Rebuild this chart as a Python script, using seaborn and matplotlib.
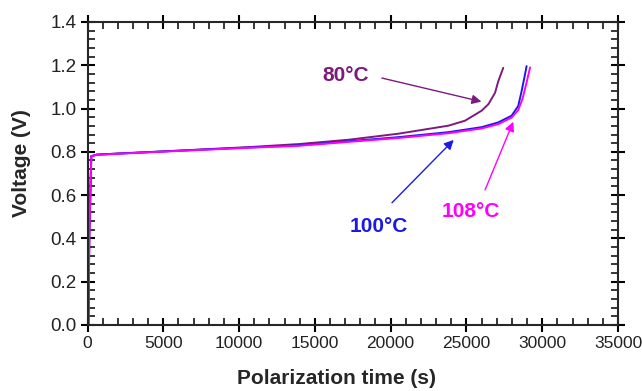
import numpy as np
import pandas as pd
import matplotlib
matplotlib.use("Agg")
import matplotlib.pyplot as plt
import seaborn as sns
from matplotlib.ticker import MultipleLocator, FormatStrFormatter

# ---- data ----
t80 = [60, 120, 250, 600, 2000, 5000, 7500, 10660, 13950, 17240, 20530, 23820, 24910, 26000, 26450, 26890, 27100, 27430]
v80 = [0.0, 0.42, 0.78, 0.787, 0.792, 0.802, 0.811, 0.822, 0.836, 0.856, 0.884, 0.921, 0.944, 0.99, 1.02, 1.073, 1.126, 1.188]

t100 = [60, 120, 250, 600, 2000, 5000, 7500, 10660, 13950, 17240, 20530, 23820, 26000, 27100, 27980, 28420, 28640, 28860, 28970]
v100 = [0.0, 0.42, 0.78, 0.787, 0.792, 0.802, 0.810, 0.820, 0.830, 0.849, 0.868, 0.891, 0.914, 0.936, 0.967, 1.012, 1.08, 1.156, 1.196]

t108 = [60, 120, 250, 600, 2000, 5000, 7500, 10660, 13950, 17240, 20530, 23820, 26000, 27100, 27980, 28420, 28700, 28950, 29200]
v108 = [0.0, 0.42, 0.78, 0.786, 0.791, 0.801, 0.809, 0.819, 0.828, 0.846, 0.864, 0.886, 0.908, 0.928, 0.958, 0.993, 1.045, 1.115, 1.19]

labels = ["80°C", "100°C", "108°C"]
colors = ["#7d1a7d", "#1a1ae6", "#ff00ff"]

df = pd.concat([
    pd.DataFrame({"t": t80, "v": v80, "temp": labels[0]}),
    pd.DataFrame({"t": t100, "v": v100, "temp": labels[1]}),
    pd.DataFrame({"t": t108, "v": v108, "temp": labels[2]}),
], ignore_index=True)

sns.set_style("ticks")
plt.rcParams['font.family'] = ['Liberation Sans', 'DejaVu Sans']

fig = plt.figure(figsize=(6.42, 3.91), dpi=100)
ax = fig.add_axes([0.1363, 0.1688, 0.8263, 0.775])

sns.lineplot(data=df, x="t", y="v", hue="temp", palette=dict(zip(labels, colors)),
             estimator=None, sort=False, linewidth=1.4, legend=False, ax=ax)

ax.set_xlim(0, 35000)
ax.set_ylim(0, 1.4)
ax.xaxis.set_major_locator(MultipleLocator(5000))
ax.xaxis.set_minor_locator(MultipleLocator(1000))
ax.yaxis.set_major_locator(MultipleLocator(0.2))
ax.yaxis.set_minor_locator(MultipleLocator(0.04))
ax.yaxis.set_major_formatter(FormatStrFormatter('%.1f'))

ax.tick_params(which='major', direction='inout', length=10, width=1.5,
               top=True, right=True, colors='black',
               labelcolor='#222222', pad=3)
ax.tick_params(axis='y', which='major', labelsize=13.5)
ax.tick_params(axis='x', which='major', labelsize=12.5)
ax.tick_params(which='minor', direction='in', length=5, width=1.3, top=True, right=True)
for s in ax.spines.values():
    s.set_linewidth(1.5)
    s.set_visible(True)

ax.set_xlabel("Polarization time (s)", fontsize=15, fontweight='bold')
ax.set_ylabel("Voltage (V)", fontsize=15, fontweight='bold')
ax.xaxis.set_label_coords(0.47, -0.145)
ax.yaxis.set_label_coords(-0.107, 0.535)

# annotations
ann = [
    ("80°C", (17030, 1.155), (19420, 1.141), (25990, 1.032), colors[0]),
    ("100°C", (19220, 0.454), (20090, 0.565), (24160, 0.855), colors[1]),
    ("108°C", (25310, 0.524), (26230, 0.624), (28090, 0.939), colors[2]),
]
for txt, tpos, start, tip, c in ann:
    ax.text(tpos[0], tpos[1], txt, color=c, fontsize=15, fontweight='bold',
            ha='center', va='center')
    ax.annotate("", xy=tip, xytext=start,
                arrowprops=dict(arrowstyle='-|>', color=c, lw=1.0,
                                mutation_scale=14, shrinkA=0, shrinkB=0))

fig.savefig("out.png", dpi=100)
